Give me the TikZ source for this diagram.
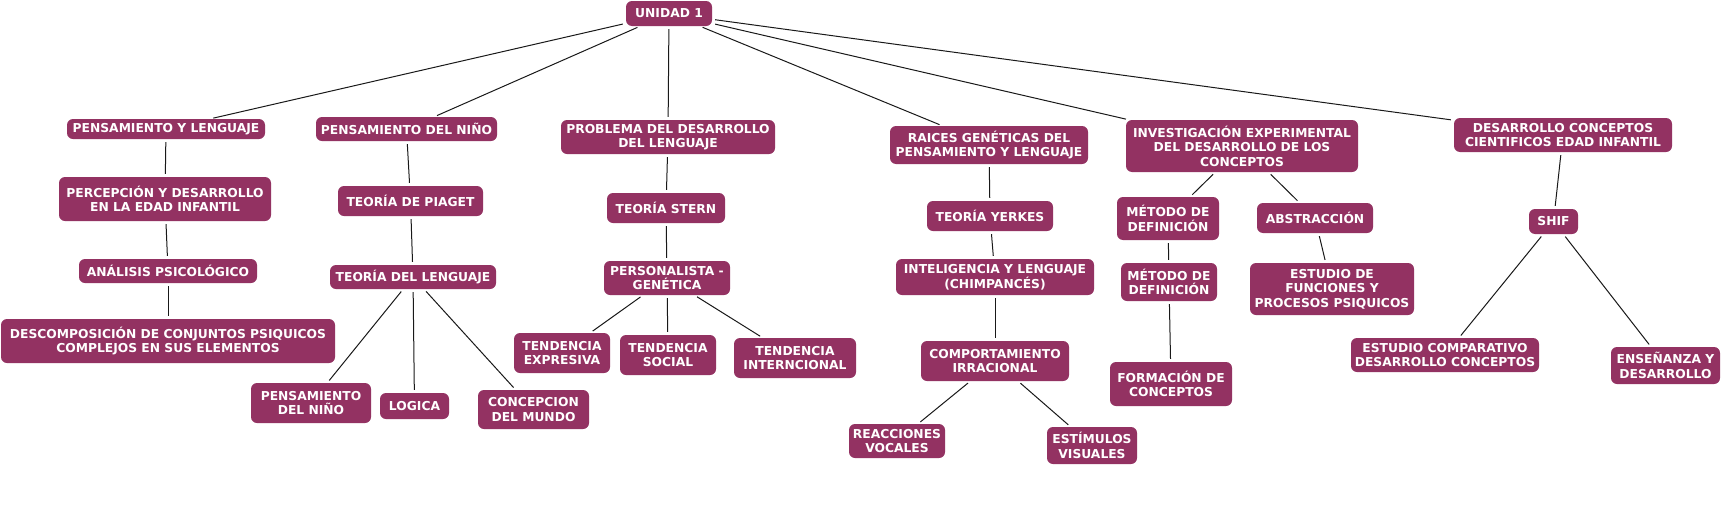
\documentclass[tikz,border=0pt]{standalone}
\usepackage{fontspec}
\newfontfamily\boxfont{DejaVu Sans}
\definecolor{boxc}{RGB}{147,50,98}
\tikzset{
  cbox/.style={fill=boxc, rounded corners=6pt, text=white,
    font=\boxfont\bfseries\fontsize{12.3}{14.5}\selectfont,
    align=center, inner sep=0pt},
  link/.style={draw=black!90, line width=1pt, shorten <=3pt, shorten >=3pt}
}
\begin{document}
\begin{tikzpicture}[x=1pt,y=-1pt]
\fill[white] (0,0) rectangle (1722,517);
\useasboundingbox (0,0) rectangle (1722,517);
% root
\node[cbox, minimum width=86pt, minimum height=25pt] (u) at (669,13.5) {UNIDAD 1};
% first level
\node[cbox, minimum width=198pt, minimum height=20pt] (pyl) at (166,129) {PENSAMIENTO Y LENGUAJE};
\node[cbox, minimum width=181pt, minimum height=24pt] (pdn) at (406.5,129) {PENSAMIENTO DEL NIÑO};
\node[cbox, minimum width=214pt, minimum height=34pt] (pdl) at (668,137) {PROBLEMA DEL DESARROLLO\\DEL LENGUAJE};
\node[cbox, minimum width=198pt, minimum height=38pt] (rg) at (989,145) {RAICES GENÉTICAS DEL\\PENSAMIENTO Y LENGUAJE};
\node[cbox, minimum width=232pt, minimum height=52pt] (ie) at (1242,146) {INVESTIGACIÓN EXPERIMENTAL\\DEL DESARROLLO DE LOS\\CONCEPTOS};
\node[cbox, minimum width=218pt, minimum height=34pt] (dc) at (1563,135) {DESARROLLO CONCEPTOS\\CIENTIFICOS EDAD INFANTIL};
% branch 1
\node[cbox, minimum width=212pt, minimum height=44pt] (per) at (165,199) {PERCEPCIÓN Y DESARROLLO\\EN LA EDAD INFANTIL};
\node[cbox, minimum width=178pt, minimum height=24pt] (ana) at (168,271) {ANÁLISIS PSICOLÓGICO};
\node[cbox, minimum width=334pt, minimum height=44pt] (des) at (168,341) {DESCOMPOSICIÓN DE CONJUNTOS PSIQUICOS\\COMPLEJOS EN SUS ELEMENTOS};
% branch 2
\node[cbox, minimum width=145pt, minimum height=30pt] (pia) at (410.5,201) {TEORÍA DE PIAGET};
\node[cbox, minimum width=166pt, minimum height=24pt] (tdl) at (413,277) {TEORÍA DEL LENGUAJE};
\node[cbox, minimum width=120pt, minimum height=40pt] (pdn2) at (311,403) {PENSAMIENTO\\DEL NIÑO};
\node[cbox, minimum width=69pt, minimum height=26pt] (log) at (414.5,406) {LOGICA};
\node[cbox, minimum width=111pt, minimum height=39pt] (cdm) at (533.5,409.5) {CONCEPCION\\DEL MUNDO};
% branch 3
\node[cbox, minimum width=118pt, minimum height=30pt] (ste) at (666,208) {TEORÍA STERN};
\node[cbox, minimum width=126pt, minimum height=34pt] (pg) at (667,278) {PERSONALISTA -\\GENÉTICA};
\node[cbox, minimum width=96pt, minimum height=40pt] (te) at (562,353) {TENDENCIA\\EXPRESIVA};
\node[cbox, minimum width=96pt, minimum height=40pt] (ts) at (668,355) {TENDENCIA\\SOCIAL};
\node[cbox, minimum width=122pt, minimum height=40pt] (ti) at (795,358) {TENDENCIA\\INTERNCIONAL};
% branch 4
\node[cbox, minimum width=126pt, minimum height=30pt] (ty) at (990,216) {TEORÍA YERKES};
\node[cbox, minimum width=198pt, minimum height=36pt] (il) at (995,277) {INTELIGENCIA Y LENGUAJE\\(CHIMPANCÉS)};
\node[cbox, minimum width=148pt, minimum height=40pt] (ci) at (995,361) {COMPORTAMIENTO\\IRRACIONAL};
\node[cbox, minimum width=96pt, minimum height=34pt] (rv) at (897,441) {REACCIONES\\VOCALES};
\node[cbox, minimum width=90pt, minimum height=37pt] (ev) at (1092,445.5) {ESTÍMULOS\\VISUALES};
% branch 5
\node[cbox, minimum width=102pt, minimum height=43pt] (md1) at (1168,218.5) {MÉTODO DE\\DEFINICIÓN};
\node[cbox, minimum width=96pt, minimum height=38pt] (md2) at (1169,282) {MÉTODO DE\\DEFINICIÓN};
\node[cbox, minimum width=122pt, minimum height=44pt] (fc) at (1171,384) {FORMACIÓN DE\\CONCEPTOS};
\node[cbox, minimum width=116pt, minimum height=30pt] (ab) at (1315,218) {ABSTRACCIÓN};
\node[cbox, minimum width=164pt, minimum height=52pt] (ef) at (1332,289) {ESTUDIO DE\\FUNCIONES Y\\PROCESOS PSIQUICOS};
% branch 6
\node[cbox, minimum width=49pt, minimum height=25pt] (sh) at (1553.5,221.5) {SHIF};
\node[cbox, minimum width=188pt, minimum height=34pt] (ec) at (1445,355) {ESTUDIO COMPARATIVO\\DESARROLLO CONCEPTOS};
\node[cbox, minimum width=109pt, minimum height=37pt] (ed) at (1665.5,365.5) {ENSEÑANZA Y\\DESARROLLO};
% connectors
\foreach \t in {pyl,pdn,pdl,rg,ie,dc} \draw[link] (u) -- (\t);
\draw[link] (pyl) -- (per);
\draw[link] (per) -- (ana);
\draw[link] (ana) -- (des);
\draw[link] (pdn) -- (pia);
\draw[link] (pia) -- (tdl);
\draw[link] (tdl) -- (pdn2);
\draw[link] (tdl) -- (log);
\draw[link] (tdl) -- (cdm);
\draw[link] (pdl) -- (ste);
\draw[link] (ste) -- (pg);
\draw[link] (pg) -- (te);
\draw[link] (pg) -- (ts);
\draw[link] (pg) -- (ti);
\draw[link] (rg) -- (ty);
\draw[link] (ty) -- (il);
\draw[link] (il) -- (ci);
\draw[link] (ci) -- (rv);
\draw[link] (ci) -- (ev);
\draw[link] (ie) -- (md1);
\draw[link] (md1) -- (md2);
\draw[link] (md2) -- (fc);
\draw[link] (ie) -- (ab);
\draw[link] (ab) -- (ef);
\draw[link] (dc) -- (sh);
\draw[link] (sh) -- (ec);
\draw[link] (sh) -- (ed);
\end{tikzpicture}
\end{document}
